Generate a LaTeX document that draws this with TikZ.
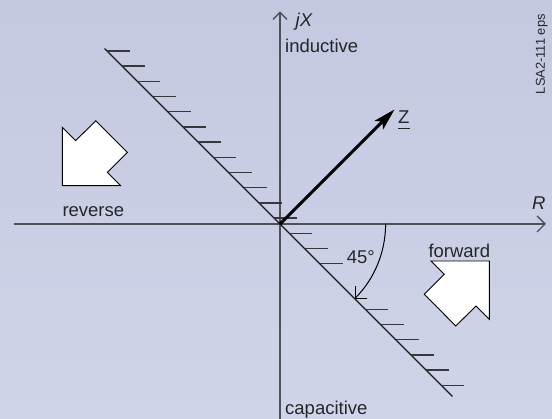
\documentclass[tikz,border=0pt]{standalone}
\usepackage{fontspec}
\setmainfont{Liberation Sans}
\usetikzlibrary{arrows.meta}
\definecolor{bgtop}{RGB}{196,201,225}
\definecolor{bgbot}{RGB}{207,212,232}
\definecolor{axisgray}{RGB}{80,80,88}
\definecolor{hatchc}{RGB}{55,55,60}
\definecolor{inkc}{RGB}{38,38,42}
\begin{document}
\begin{tikzpicture}[x=1pt,y=1pt,
  lbl/.style={font=\fontsize{18.5}{20}\selectfont, text=inkc, inner sep=0pt},
  axisline/.style={draw=axisgray, line width=1.3pt},
  hatchline/.style={draw=hatchc, line width=1.4pt},
  diagline/.style={draw=black!90, line width=1.3pt},
  blockarrow/.style={fill=white, draw=black, line width=0.9pt, line join=miter}]
\shade[top color=bgtop, bottom color=bgbot] (0,0) rectangle (552,419);
\useasboundingbox (0,0) rectangle (552,419);
% axes
\coordinate (O) at (280,195);
\coordinate (Xl) at (14,195);
\coordinate (Xr) at (546,195);
\coordinate (Yb) at (280,0);
\coordinate (Yt) at (280,407.5);
\draw[axisline,-{Straight Barb[length=8pt,width=16pt]}] (Xl) -- (Xr);
\draw[axisline,-{Straight Barb[length=7pt,width=14pt]}] (Yb) -- (Yt);
% diagonal boundary line with hatching
\coordinate (Dt) at (104.6,370.4);
\coordinate (Db) at (452.5,22.5);
\draw[diagline] (Dt) -- (Db);
\foreach \h in {51,66.2,81.4,96.6,111.8,127,142.2,157.4,172.6,187.8,203,218.2,233.4,248.6,263.8,309.4,324.6,339.8,355,370.2,385.4}
  \draw[hatchline] ({56+\h},{419-\h}) -- ++(23,0);
% impedance vector
\coordinate (Zt) at (394.5,309.5);
\draw[line width=3pt, -{Stealth[length=22pt,width=12pt,inset=5pt]}] (O) -- (Zt);
\node[lbl, anchor=base west] (zl) at (398,295.7) {Z};
\draw[line width=1.2pt, draw=inkc] ([yshift=-5pt]zl.base west) -- ([yshift=-5pt]zl.base east);
% angle arc
\coordinate (A0) at (385.6,195);
\draw[line width=1pt, -{Straight Barb[length=8.5pt,width=17pt]}] (A0) arc[start angle=0, end angle=-45, radius=105.6];
\node[lbl, anchor=base west] (ang) at (346.7,155) {45°};
% labels
\node[lbl, anchor=base west] (jx) at (295.5,392.3) {\itshape jX};
\node[lbl, anchor=base west] (ind) at (285,366.3) {inductive};
\node[lbl, anchor=base west] (cap) at (285,4.7) {capacitive};
\node[lbl, anchor=base west] (rl) at (532,209) {\itshape R};
\node[lbl, anchor=base west] (rev) at (62.3,202.3) {reverse};
\node[lbl, anchor=base west] (fwd) at (428.3,161.7) {forward};
\node[font=\fontsize{12.9}{14}\selectfont, text=inkc, rotate=90, inner sep=0pt] (tag) at (541.7,364.8) {LSA2-111 eps};
% block arrows
\draw[blockarrow, shift={(62.3,233.3)}] (0,0) -- (58.3,0) -- (45,13.3) -- (65,33.3) -- (33.5,65) -- (13.3,45) -- (0,58.3) -- cycle;
\draw[blockarrow, shift={(489.3,158)}] (0,0) -- (-58.3,0) -- (-45,-13.3) -- (-65,-33.3) -- (-33.5,-65) -- (-13.3,-45) -- (0,-58.3) -- cycle;
\end{tikzpicture}
\end{document}
